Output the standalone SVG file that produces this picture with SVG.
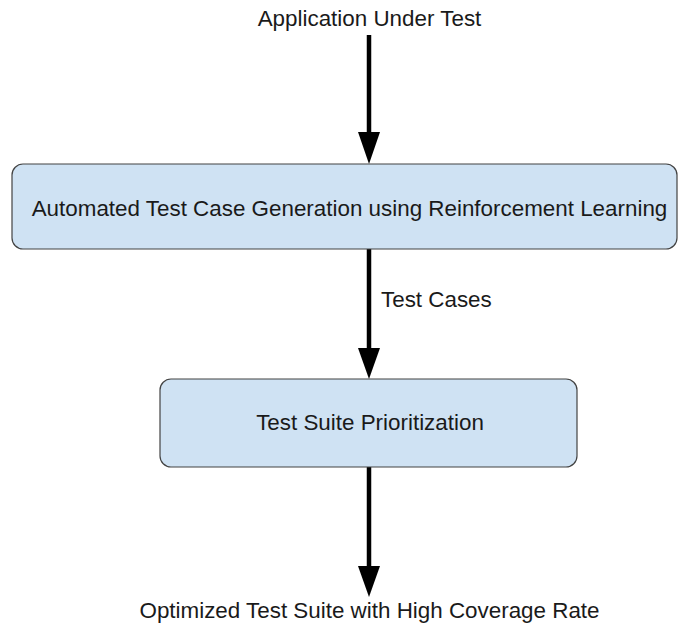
<svg xmlns="http://www.w3.org/2000/svg" width="679" height="625" viewBox="0 0 679 625">
  <style>
    .box { fill: #cfe2f3; stroke: #434343; stroke-width: 1.2; }
    .lbl { font-family: "Liberation Sans", Arial, sans-serif; font-size: 22.4px; fill: #1a1a1a; }
    .mid { text-anchor: middle; }
    .edge { stroke: #000; stroke-width: 4.5; fill: none; }
    .head { fill: #000; }
  </style>
  <rect width="679" height="625" fill="#fff"/>

  <text class="lbl mid" x="369.5" y="26">Application Under Test</text>

  <g id="connectors">
    <line class="edge" x1="369" y1="35" x2="369" y2="140"/>
    <polygon class="head" points="358,132 380,132 369,164"/>
    <line class="edge" x1="369" y1="249" x2="369" y2="356"/>
    <polygon class="head" points="358,348 380,348 369,379"/>
    <text class="lbl" x="381" y="307">Test Cases</text>
    <line class="edge" x1="369" y1="467" x2="369" y2="574"/>
    <polygon class="head" points="358,566 380,566 369,597"/>
  </g>

  <g id="node-generation">
    <rect class="box" x="12" y="164" width="665" height="85" rx="11"/>
    <text class="lbl mid" x="349.5" y="216">Automated Test Case Generation using Reinforcement Learning</text>
  </g>

  <g id="node-prioritization">
    <rect class="box" x="160" y="379" width="417" height="88" rx="11"/>
    <text class="lbl mid" x="370" y="430">Test Suite Prioritization</text>
  </g>

  <text class="lbl mid" x="369.5" y="618">Optimized Test Suite with High Coverage Rate</text>
</svg>
